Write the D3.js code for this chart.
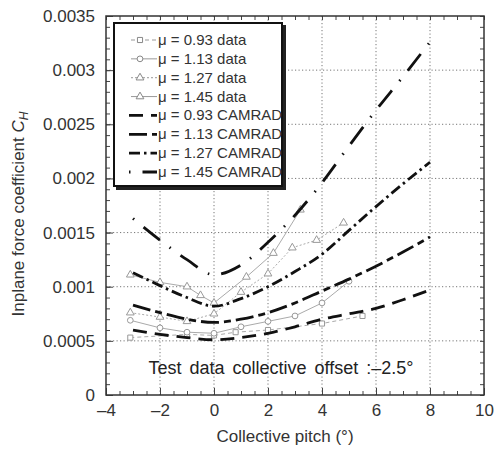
<!DOCTYPE html>
<html>
<head>
<meta charset="utf-8">
<script src="https://cdn.jsdelivr.net/npm/d3@7.9.0/dist/d3.min.js"></script>
<style>
  body { margin: 0; background: #fff; }
  svg text { font-family: "Liberation Sans", Arial, Helvetica, sans-serif; }
</style>
</head>
<body>
<svg id="chart" width="495" height="454"></svg>
<script>
// CAMRAD predictions (pitch in deg, C_H)
const camX = [-3, -2, -1, 0, 1, 2, 3, 4, 5, 6, 7, 8];
const cam093 = [0.0006, 0.00056, 0.00053, 0.00051, 0.00053, 0.00057, 0.00063, 0.0007, 0.00075, 0.0008, 0.00088, 0.00097];
const cam113 = [0.00083, 0.00076, 0.0007, 0.00067, 0.0007, 0.00076, 0.00085, 0.00096, 0.00107, 0.00119, 0.00132, 0.00146];
const cam127 = [0.00113, 0.00101, 0.0009, 0.00082, 0.00089, 0.001, 0.00114, 0.0013, 0.00152, 0.00174, 0.00195, 0.00215];
const cam145 = [0.00163, 0.00143, 0.00125, 0.00111, 0.0012, 0.00141, 0.00166, 0.00196, 0.0023, 0.00263, 0.00294, 0.00326];

// test data
const d093x = [-3.1, -1, 0, 0.8, 2, 4, 5.5];
const d093y = [0.00053, 0.00056, 0.00055, 0.00058, 0.0006, 0.00066, 0.00073];
const d113x = [-3.1, -2, -1, 0, 1, 2, 3, 4, 5];
const d113y = [0.00069, 0.00062, 0.00058, 0.00057, 0.00063, 0.00068, 0.00073, 0.00085, 0.00105];
const d127x = [-3.1, -2, -1, 0, 1, 2, 2.9, 3.8, 4.8];
const d127y = [0.00076, 0.00072, 0.00068, 0.00075, 0.00095, 0.00112, 0.00136, 0.00143, 0.00159];
const d145x = [-3.1, -2, -1, -0.5, 0, 1.2, 2.2, 3.2];
const d145y = [0.00111, 0.00104, 0.001, 0.00092, 0.00085, 0.00109, 0.00131, 0.00171];

const xTicks = [-4, -2, 0, 2, 4, 6, 8, 10];
const yTicks = [0, 0.0005, 0.001, 0.0015, 0.002, 0.0025, 0.003, 0.0035];

const legendLabels = ["\u03bc = 0.93 data", "\u03bc = 1.13 data", "\u03bc = 1.27 data", "\u03bc = 1.45 data",
  "\u03bc = 0.93 CAMRAD", "\u03bc = 1.13 CAMRAD", "\u03bc = 1.27 CAMRAD", "\u03bc = 1.45 CAMRAD"];

const svg = d3.select("#chart");
const pL = 106, pR = 484, pT = 16, pB = 395;

const x = d3.scaleLinear().domain([-4, 10]).range([pL, pR]);
const y = d3.scaleLinear().domain([0, 0.0035]).range([pB, pT]);

// grid
svg.append("g").selectAll("line").data(xTicks.slice(1, -1)).join("line")
  .attr("x1", d => x(d)).attr("x2", d => x(d)).attr("y1", pT).attr("y2", pB)
  .attr("stroke", "#777").attr("stroke-width", 1).attr("stroke-dasharray", "1.2,2.3");
svg.append("g").selectAll("line").data(yTicks.slice(1, -1)).join("line")
  .attr("y1", d => y(d)).attr("y2", d => y(d)).attr("x1", pL).attr("x2", pR)
  .attr("stroke", "#777").attr("stroke-width", 1).attr("stroke-dasharray", "1.2,2.3");

// axes with inward ticks on all four sides
const fmtY = d => d === 0 ? "0" : d3.format(".4~f")(d);
const xMinor = d3.range(-4, 10.01, 0.5);
const yMinor = d3.range(0, 0.00351, 0.0001);

svg.append("g").attr("transform", `translate(0,${pB})`)
  .call(d3.axisBottom(x).tickValues(xMinor).tickSize(-4).tickFormat(""))
  .call(g => g.select(".domain").remove());
svg.append("g").attr("transform", `translate(0,${pB})`)
  .call(d3.axisBottom(x).tickValues(xTicks).tickSize(-7).tickPadding(9)
    .tickFormat(d => d < 0 ? "\u2013" + Math.abs(d) : d))
  .call(g => g.select(".domain").remove())
  .call(g => g.selectAll("text").attr("font-size", 17).attr("fill", "#333"));
svg.append("g").attr("transform", `translate(0,${pT})`)
  .call(d3.axisTop(x).tickValues(xMinor).tickSize(-4).tickFormat(""))
  .call(g => g.select(".domain").remove());
svg.append("g").attr("transform", `translate(${pL},0)`)
  .call(d3.axisLeft(y).tickValues(yMinor).tickSize(-4).tickFormat(""))
  .call(g => g.select(".domain").remove());
svg.append("g").attr("transform", `translate(${pL},0)`)
  .call(d3.axisLeft(y).tickValues(yTicks).tickSize(-7).tickPadding(11).tickFormat(fmtY))
  .call(g => g.select(".domain").remove())
  .call(g => g.selectAll("text").attr("font-size", 17).attr("fill", "#333"));
svg.append("g").attr("transform", `translate(${pR},0)`)
  .call(d3.axisRight(y).tickValues(yMinor).tickSize(-4).tickFormat(""))
  .call(g => g.select(".domain").remove());
svg.selectAll(".tick line").attr("stroke", "#444");

svg.append("rect").attr("x", pL).attr("y", pT).attr("width", pR - pL).attr("height", pB - pT)
  .attr("fill", "none").attr("stroke", "#333").attr("stroke-width", 1.5);

// series
const camSeries = [
  { ys: cam093, dash: "14,8" },
  { ys: cam113, dash: "18,5,7,5" },
  { ys: cam127, dash: "11,4,2.5,4" },
  { ys: cam145, dash: "1.5,12,21,12" }
];
const dataSeries = [
  { xs: d093x, ys: d093y, dash: "4,3", mark: d3.symbolSquare },
  { xs: d113x, ys: d113y, dash: null, mark: d3.symbolCircle },
  { xs: d127x, ys: d127y, dash: "2,2", mark: d3.symbolTriangle },
  { xs: d145x, ys: d145y, dash: null, mark: d3.symbolTriangle }
];

const line = d3.line().x(d => x(d[0])).y(d => y(d[1]));
const smooth = d3.line().x(d => x(d[0])).y(d => y(d[1])).curve(d3.curveMonotoneX);

dataSeries.forEach(s => {
  const pts = s.xs.map((v, i) => [v, s.ys[i]]);
  svg.append("path").attr("d", line(pts)).attr("fill", "none")
    .attr("stroke", "#aaa").attr("stroke-width", 1)
    .attr("stroke-dasharray", s.dash);
  svg.append("g").selectAll("path").data(pts).join("path")
    .attr("transform", d => `translate(${x(d[0])},${y(d[1])})`)
    .attr("d", d3.symbol().type(s.mark).size(26))
    .attr("fill", "#fff").attr("stroke", "#999").attr("stroke-width", 1);
});

camSeries.forEach(s => {
  const pts = camX.map((v, i) => [v, s.ys[i]]);
  svg.append("path").attr("d", smooth(pts)).attr("fill", "none")
    .attr("stroke", "#111").attr("stroke-width", 2.8)
    .attr("stroke-dasharray", s.dash);
});

// annotation
svg.append("text").attr("x", 281).attr("y", y(0.00025) + 6)
  .attr("text-anchor", "middle").attr("font-size", 18).attr("word-spacing", 3).attr("fill", "#222")
  .text("Test data collective offset :\u20132.5\u00b0");

// axis titles
svg.append("text").attr("x", 285).attr("y", 442)
  .attr("text-anchor", "middle").attr("font-size", 17).attr("fill", "#333")
  .text("Collective pitch (\u00b0)");
const yt = svg.append("text").attr("transform", "translate(24,214) rotate(-90)")
  .attr("text-anchor", "middle").attr("font-size", 17).attr("fill", "#333");
yt.append("tspan").text("Inplane force coefficient ");
yt.append("tspan").attr("font-style", "italic").text("C");
yt.append("tspan").attr("font-style", "italic").attr("font-size", 12).attr("dy", 4).text("H");

// legend
const lg = svg.append("g");
lg.append("rect").attr("x", 116).attr("y", 25).attr("width", 170).attr("height", 165).attr("fill", "#222");
lg.append("rect").attr("x", 114).attr("y", 23).attr("width", 168).attr("height", 163)
  .attr("fill", "#fff").attr("stroke", "#111").attr("stroke-width", 2);
const ly = d3.scaleLinear().domain([0, 7]).range([40, 172]);
legendLabels.forEach((lab, i) => {
  const yy = ly(i);
  if (i < 4) {
    const s = dataSeries[i];
    lg.append("line").attr("x1", 131).attr("x2", 157).attr("y1", yy).attr("y2", yy)
      .attr("stroke", "#999").attr("stroke-width", 1).attr("stroke-dasharray", s.dash);
    lg.append("path").attr("transform", `translate(140,${yy})`)
      .attr("d", d3.symbol().type(s.mark).size(26))
      .attr("fill", "#fff").attr("stroke", "#888");
  } else {
    lg.append("line").attr("x1", 129).attr("x2", 157).attr("y1", yy).attr("y2", yy)
      .attr("stroke", "#111").attr("stroke-width", 2.8).attr("stroke-dasharray", camSeries[i - 4].dash);
  }
  lg.append("text").attr("x", 158).attr("y", yy + 5).attr("font-size", 15).attr("fill", "#333").text(lab);
});
</script>
</body>
</html>
